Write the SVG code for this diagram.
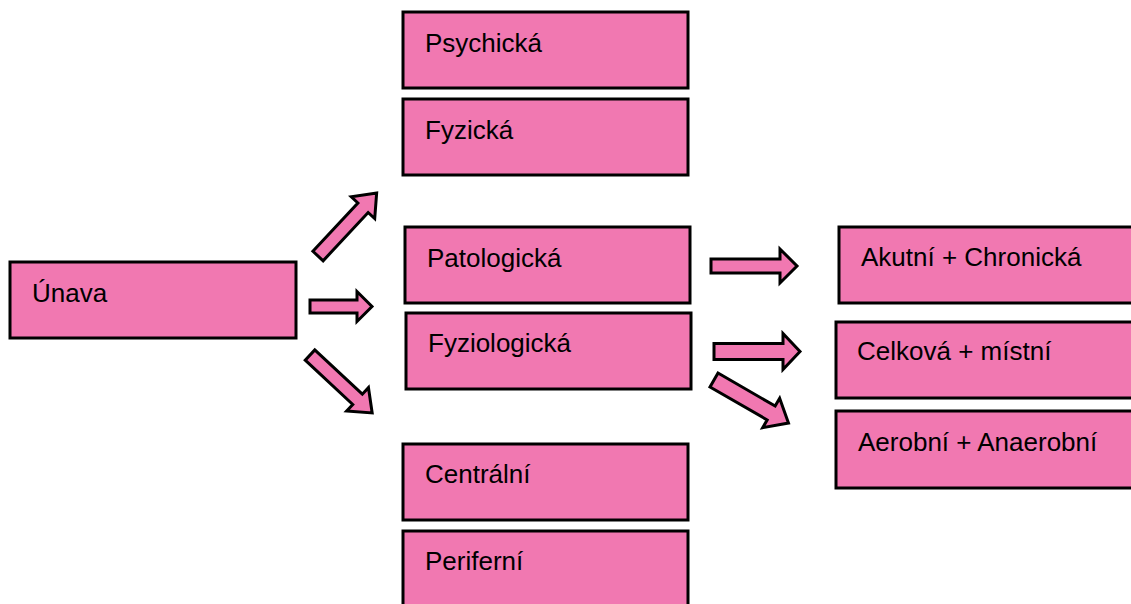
<svg xmlns="http://www.w3.org/2000/svg" width="1131" height="604" viewBox="0 0 1131 604">
<style>
.box{fill:#F178B1;stroke:#000;stroke-width:3}
.arr{fill:#F178B1;stroke:#000;stroke-width:3;stroke-linejoin:miter}
.t{font-family:"Liberation Sans",Arial,sans-serif;font-size:26px;fill:#000}
</style>
<rect width="1131" height="604" fill="#fff"/>
<g id="unava"><rect class="box" x="10" y="262" width="286" height="76"/><text class="t" x="32" y="302">Únava</text></g>
<g id="psychicka"><rect class="box" x="403" y="12" width="285" height="76"/><text class="t" x="425" y="52">Psychická</text></g>
<g id="fyzicka"><rect class="box" x="403" y="99" width="285" height="76"/><text class="t" x="425" y="139">Fyzická</text></g>
<g id="patologicka"><rect class="box" x="405" y="227" width="285" height="76"/><text class="t" x="427" y="267">Patologická</text></g>
<g id="fyziologicka"><rect class="box" x="406" y="313" width="285" height="76"/><text class="t" x="428" y="352">Fyziologická</text></g>
<g id="centralni"><rect class="box" x="403" y="444" width="285" height="76"/><text class="t" x="425" y="483">Centrální</text></g>
<g id="periferni"><rect class="box" x="403" y="531" width="285" height="80"/><text class="t" x="425" y="570">Periferní</text></g>
<g id="akutni"><rect class="box" x="839" y="227" width="300" height="76"/><text class="t" x="861" y="266">Akutní + Chronická</text></g>
<g id="celkova"><rect class="box" x="836" y="322" width="300" height="76"/><text class="t" x="857" y="360">Celková + místní</text></g>
<g id="aerobni"><rect class="box" x="836" y="411" width="300" height="77"/><text class="t" x="858" y="451">Aerobní + Anaerobní</text></g>
<g id="connectors">
<path class="arr" transform="translate(318,256) rotate(-47)" d="M0,-7 H66 V-16 L86,0 L66,16 V7 H0 Z"/>
<path class="arr" transform="translate(310,306.5)" d="M0,-6.5 H47 V-15 L62,0 L47,15 V6.5 H0 Z"/>
<path class="arr" transform="translate(310,355) rotate(43)" d="M0,-7 H65 V-16 L85,0 L65,16 V7 H0 Z"/>
<path class="arr" transform="translate(711,266)" d="M0,-7 H69 V-17 L86,0 L69,17 V7 H0 Z"/>
<path class="arr" transform="translate(714,351.5)" d="M0,-8 H69 V-18 L86,0 L69,18 V8 H0 Z"/>
<path class="arr" transform="translate(714,380) rotate(30)" d="M0,-8 H66 V-17 L86,0 L66,17 V8 H0 Z"/>
</g>
</svg>
